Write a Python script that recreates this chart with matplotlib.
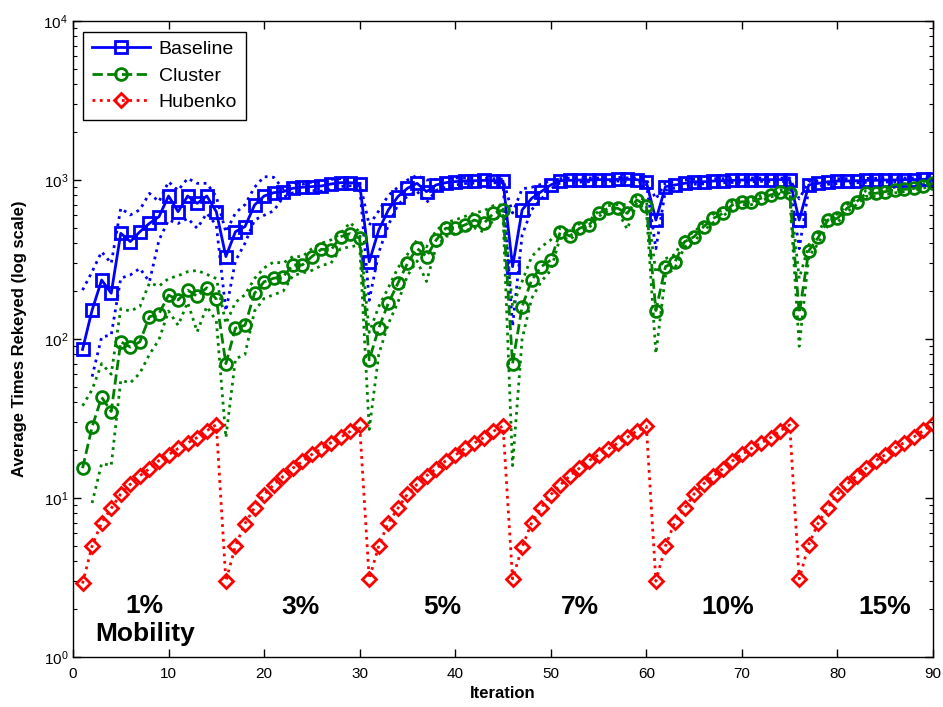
import numpy as np
import matplotlib
matplotlib.use("Agg")
import matplotlib.pyplot as plt
from matplotlib.ticker import LogLocator, LogFormatterMathtext, NullFormatter

plt.rcParams['font.family'] = ['Liberation Sans', 'DejaVu Sans']
plt.rcParams['mathtext.fontset'] = 'custom'
plt.rcParams['mathtext.rm'] = 'Liberation Sans'
plt.rcParams['mathtext.it'] = 'Liberation Sans:italic'
plt.rcParams['mathtext.bf'] = 'Liberation Sans:bold'

nan = np.nan
iterations = np.arange(1, 91)

baseline_mean = [
    86, 152, 235, 194, 462, 410, 473, 534, 588, 793, 632, 793, 713, 793, 632,
    330, 473, 509, 696, 793, 832, 845, 887, 900, 909, 917, 944, 962, 962, 950,
    306, 485, 648, 786, 887, 953, 845, 931, 962, 977, 986, 990, 995, 990, 985,
    285, 648, 767, 845, 931, 990, 995, 1000, 1000, 1005, 1005, 1010, 1010, 1005, 975,
    560, 909, 931, 953, 975, 975, 985, 990, 995, 1000, 1000, 1005, 1005, 1005, 1000,
    560, 931, 953, 975, 985, 985, 990, 995, 995, 1000, 1000, 1005, 1005, 1010, 1010]
baseline_upper = [
    203, 265, 354, 299, 664, 603, 650, 824, 731, 975, 860, 1024, 953, 953, 785,
    470, 620, 700, 900, 1050, 1040, 880, 950, 940, 970, 990, 1010, 1020, 1000, 980,
    520, 640, 800, 900, 1000, 1070, 1000, 1010, 1020, 1030, 1030, 1030, 1030, 1020, 1010,
    620, 880, 900, 940, 990, 1020, 1030, 1030, 1030, 1030, 1030, 1040, 1030, 1030, 1010,
    760, 960, 980, 1000, 1010, 1010, 1020, 1020, 1020, 1030, 1030, 1030, 1030, 1030, 1030,
    760, 980, 990, 1010, 1020, 1020, 1020, 1025, 1025, 1030, 1030, 1030, 1030, 1035, 1035]
baseline_lower = [
    nan, 58, 103, 106, 241, 253, 278, 229, 419, 560, 533, 574, 497, 617, 520,
    150, 310, 400, 560, 600, 640, 780, 830, 860, 860, 850, 880, 910, 920, 920,
    175, 350, 520, 700, 790, 850, 720, 860, 900, 930, 950, 955, 960, 960, 960,
    120, 450, 650, 760, 880, 960, 965, 970, 975, 980, 985, 985, 980, 975, 950,
    370, 860, 890, 910, 940, 945, 950, 960, 965, 970, 975, 980, 980, 980, 975,
    370, 880, 910, 940, 950, 955, 960, 965, 965, 970, 975, 980, 980, 985, 985]

cluster_mean = [
    15.4, 28, 43, 35, 96, 89, 96, 138, 144, 189, 176, 203, 186, 210, 178,
    70, 117, 122, 194, 229, 241, 247, 292, 292, 330, 367, 363, 440, 460, 430,
    74, 117, 168, 224, 299, 372, 330, 419, 497, 497, 521, 560, 534, 617, 648,
    70, 160, 235, 285, 314, 473, 444, 497, 521, 617, 664, 664, 617, 750, 690,
    151, 285, 306, 409, 440, 509, 574, 617, 697, 730, 730, 767, 805, 845, 825,
    145, 359, 436, 560, 574, 664, 730, 825, 825, 845, 865, 874, 885, 917, 953]
cluster_upper = [
    38, 48, 70, 60, 155, 150, 160, 225, 215, 240, 250, 265, 270, 255, 240,
    125, 170, 190, 240, 280, 305, 300, 330, 330, 370, 400, 420, 460, 540, 470,
    110, 160, 210, 280, 340, 420, 380, 480, 540, 560, 590, 620, 640, 690, 700,
    160, 230, 330, 380, 420, 500, 480, 530, 550, 640, 690, 700, 700, 790, 740,
    260, 320, 340, 440, 470, 540, 610, 650, 730, 760, 760, 800, 840, 870, 860,
    240, 390, 470, 600, 610, 700, 760, 860, 860, 880, 900, 905, 915, 945, 980]
cluster_lower = [
    nan, 9.3, 16.5, 16, 55, 53, 61, 80, 99, 150, 122, 170, 111, 160, 130,
    24, 75, 80, 150, 180, 190, 200, 250, 260, 270, 290, 300, 370, 380, 390,
    27, 80, 125, 170, 250, 310, 230, 380, 440, 460, 480, 500, 470, 560, 600,
    16, 100, 180, 230, 270, 440, 420, 480, 500, 590, 640, 640, 490, 720, 650,
    81, 250, 280, 380, 410, 480, 540, 590, 670, 700, 700, 740, 780, 820, 800,
    90, 330, 400, 520, 540, 630, 700, 790, 790, 810, 830, 845, 855, 890, 925]

hubenko_mean = [
    2.9, 5.0, 7.0, 8.6, 10.6, 12.2, 13.8, 15.3, 17.2, 18.7, 20.5, 22.2, 24.0, 26.5, 28.9,
    3.0, 5.0, 6.9, 8.7, 10.5, 12.1, 13.7, 15.4, 17.0, 18.8, 20.4, 22.3, 24.1, 26.2, 28.6,
    3.1, 5.0, 7.0, 8.6, 10.6, 12.2, 13.8, 15.3, 17.1, 18.6, 20.5, 22.2, 24.0, 26.3, 28.4,
    3.1, 4.9, 7.0, 8.7, 10.5, 12.1, 13.8, 15.4, 17.2, 18.7, 20.3, 22.1, 24.1, 26.4, 28.3,
    3.0, 5.0, 7.1, 8.6, 10.6, 12.3, 13.7, 15.3, 17.1, 18.8, 20.5, 22.2, 24.0, 26.5, 28.8,
    3.1, 5.1, 7.0, 8.7, 10.6, 12.2, 13.8, 15.4, 17.2, 18.7, 20.6, 22.3, 24.2, 26.6, 29.2]

segment_labels = ["1%\nMobility", "3%", "5%", "7%", "10%", "15%"]
segment_label_x = [7.5, 23.8, 38.6, 53.1, 68.5, 85.0]

fig = plt.figure(figsize=(9.43, 7.07), dpi=100)
ax = fig.add_axes([0.0774, 0.0707, 0.912, 0.8996])

blue = (0, 0, 1)
green = (0, 0.5, 0)
red = (1, 0, 0)

ax.plot(iterations, baseline_upper, ':', color=blue, lw=2)
ax.plot(iterations, baseline_lower, ':', color=blue, lw=2)
ax.plot(iterations, cluster_upper, ':', color=green, lw=2)
ax.plot(iterations, cluster_lower, ':', color=green, lw=2)

ax.plot(iterations, baseline_mean, '-', color=blue, lw=2, marker='s', ms=8.5,
        mfc='none', mec=blue, mew=2, label='Baseline')
ax.plot(iterations, cluster_mean, '--', color=green, lw=2, marker='o', ms=8.5,
        mfc='none', mec=green, mew=2, label='Cluster')
ax.plot(iterations, hubenko_mean, ':', color=red, lw=2, marker='D', ms=7,
        mfc='none', mec=red, mew=2, label='Hubenko')

ax.set_yscale('log')
ax.set_xlim(0, 90)
ax.set_ylim(1, 1e4)
ax.set_xticks(np.arange(0, 91, 10))
ax.yaxis.set_major_locator(LogLocator(base=10, numticks=10))
ax.yaxis.set_major_formatter(LogFormatterMathtext())
ax.yaxis.set_minor_locator(LogLocator(base=10, subs=np.arange(2, 10), numticks=20))
ax.yaxis.set_minor_formatter(NullFormatter())
ax.tick_params(which='both', direction='in', top=True, right=True, labelsize=11)
ax.tick_params(axis='x', pad=7)
ax.tick_params(which='major', length=6, width=1)
ax.tick_params(which='minor', length=3, width=0.8)
for s in ax.spines.values():
    s.set_linewidth(1)

ax.set_xlabel('Iteration', fontsize=12, fontweight='bold', labelpad=4)
ax.set_ylabel('Average Times Rekeyed (log scale)', fontsize=12, fontweight='bold', labelpad=12)

label_y = [1.7, 2.06, 2.06, 2.06, 2.06, 2.06]
for lbl, lx, ly in zip(segment_labels, segment_label_x, label_y):
    ax.text(lx, ly, lbl, ha='center', va='center', fontsize=19, fontweight='bold',
            linespacing=1.2)

leg = ax.legend(loc='upper left', bbox_to_anchor=(0.0116, 0.983), borderaxespad=0,
                fontsize=14, handlelength=3.0, handletextpad=0.45, borderpad=0.45,
                labelspacing=0.45, fancybox=False, framealpha=1,
                edgecolor='black')
leg.get_frame().set_linewidth(1)

fig.savefig('out.png', dpi=100)
